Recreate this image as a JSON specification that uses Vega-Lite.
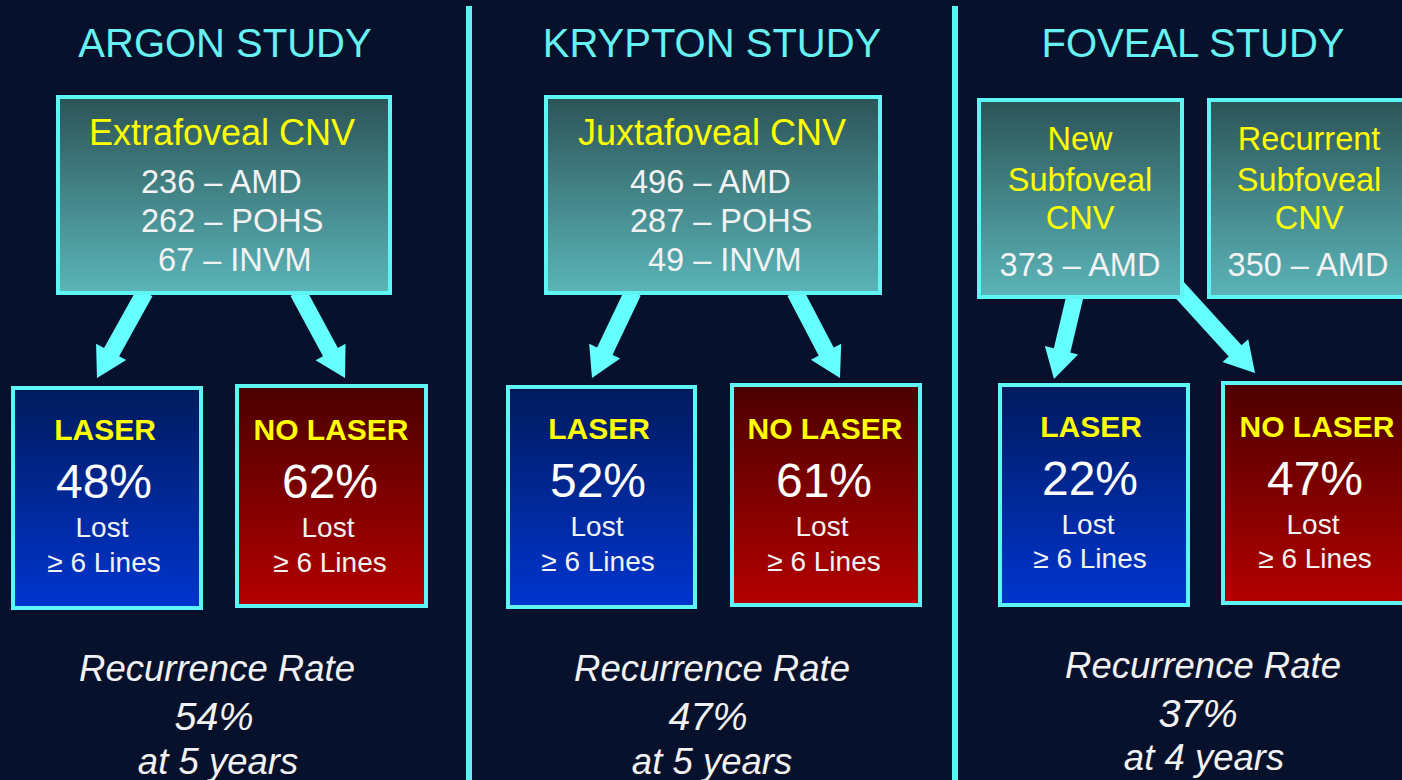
{
  "$schema": "https://vega.github.io/schema/vega-lite/v6.json",
  "autosize": "none",
  "width": 1402,
  "height": 780,
  "padding": 0,
  "background": "#08112c",
  "config": {"view": {"stroke": null}, "font": "Liberation Sans"},
  "datasets": {
    "dividers": [
      {"x": 469, "y": 6, "y2": 780},
      {"x": 955, "y": 6, "y2": 780}
    ],
    "arrows": [
      {"study": "Argon", "to": "Laser", "x": 145, "y": 292, "x2": 110, "y2": 355, "tx": 97, "ty": 378, "angle": 28.4},
      {"study": "Argon", "to": "No laser", "x": 298, "y": 292, "x2": 332, "y2": 355, "tx": 345, "ty": 378, "angle": 331},
      {"study": "Krypton", "to": "Laser", "x": 633, "y": 292, "x2": 603, "y2": 355, "tx": 592, "ty": 378, "angle": 25.2},
      {"study": "Krypton", "to": "No laser", "x": 795, "y": 292, "x2": 828, "y2": 355, "tx": 840, "ty": 378, "angle": 332},
      {"study": "Foveal", "to": "Laser", "x": 1075, "y": 296, "x2": 1061, "y2": 355, "tx": 1054, "ty": 379, "angle": 14.5},
      {"study": "Foveal", "to": "No laser", "x": 1176, "y": 286, "x2": 1238, "y2": 354, "tx": 1255, "ty": 373, "angle": 318.7}
    ],
    "boxes": [
      {"kind": "top", "label": "Extrafoveal CNV", "x": 58, "x2": 390, "y": 97, "y2": 293},
      {"kind": "top", "label": "Juxtafoveal CNV", "x": 546, "x2": 880, "y": 97, "y2": 293},
      {"kind": "top", "label": "New Subfoveal CNV", "x": 979, "x2": 1182, "y": 100, "y2": 297},
      {"kind": "top", "label": "Recurrent Subfoveal CNV", "x": 1209, "x2": 1410, "y": 100, "y2": 297},
      {"kind": "laser", "label": "Argon laser", "x": 13, "x2": 201, "y": 388, "y2": 608},
      {"kind": "laser", "label": "Krypton laser", "x": 508, "x2": 695, "y": 387, "y2": 607},
      {"kind": "laser", "label": "Foveal laser", "x": 1000, "x2": 1188, "y": 385, "y2": 605},
      {"kind": "nolaser", "label": "Argon no laser", "x": 237, "x2": 426, "y": 386, "y2": 606},
      {"kind": "nolaser", "label": "Krypton no laser", "x": 732, "x2": 920, "y": 385, "y2": 605},
      {"kind": "nolaser", "label": "Foveal no laser", "x": 1223, "x2": 1410, "y": 383, "y2": 603}
    ],
    "labels": [
      {"role": "title", "text": "ARGON STUDY", "x": 225, "y": 44},
      {"role": "title", "text": "KRYPTON STUDY", "x": 712, "y": 44},
      {"role": "title", "text": "FOVEAL STUDY", "x": 1193, "y": 44},
      {"role": "head", "text": "Extrafoveal CNV", "x": 222, "y": 133},
      {"role": "head", "text": "Juxtafoveal CNV", "x": 712, "y": 133},
      {"role": "count", "text": "236 – AMD", "x": 141, "y": 182},
      {"role": "count", "text": "262 – POHS", "x": 141, "y": 221},
      {"role": "count", "text": "67 – INVM", "x": 158, "y": 260},
      {"role": "count", "text": "496 – AMD", "x": 630, "y": 182},
      {"role": "count", "text": "287 – POHS", "x": 630, "y": 221},
      {"role": "count", "text": "49 – INVM", "x": 648, "y": 260},
      {"role": "head2", "text": "New", "x": 1080, "y": 139},
      {"role": "head2", "text": "Subfoveal", "x": 1080, "y": 180},
      {"role": "head2", "text": "CNV", "x": 1080, "y": 218},
      {"role": "head2", "text": "Recurrent", "x": 1309, "y": 139},
      {"role": "head2", "text": "Subfoveal", "x": 1309, "y": 180},
      {"role": "head2", "text": "CNV", "x": 1309, "y": 218},
      {"role": "count2", "text": "373 – AMD", "x": 1080, "y": 265},
      {"role": "count2", "text": "350 – AMD", "x": 1308, "y": 265},
      {"role": "boxhead", "text": "LASER", "x": 105, "y": 430},
      {"role": "boxhead", "text": "NO LASER", "x": 331, "y": 430},
      {"role": "boxhead", "text": "LASER", "x": 599, "y": 429},
      {"role": "boxhead", "text": "NO LASER", "x": 825, "y": 429},
      {"role": "boxhead", "text": "LASER", "x": 1091, "y": 427},
      {"role": "boxhead", "text": "NO LASER", "x": 1317, "y": 427},
      {"role": "pct", "text": "48%", "x": 104, "y": 483},
      {"role": "pct", "text": "62%", "x": 330, "y": 483},
      {"role": "pct", "text": "52%", "x": 598, "y": 482},
      {"role": "pct", "text": "61%", "x": 824, "y": 482},
      {"role": "pct", "text": "22%", "x": 1090, "y": 480},
      {"role": "pct", "text": "47%", "x": 1315, "y": 480},
      {"role": "lost", "text": "Lost", "x": 102, "y": 527},
      {"role": "lost", "text": "Lost", "x": 328, "y": 527},
      {"role": "lost", "text": "Lost", "x": 597, "y": 526},
      {"role": "lost", "text": "Lost", "x": 822, "y": 526},
      {"role": "lost", "text": "Lost", "x": 1088, "y": 524},
      {"role": "lost", "text": "Lost", "x": 1313, "y": 524},
      {"role": "lost", "text": "≥ 6 Lines", "x": 104, "y": 562},
      {"role": "lost", "text": "≥ 6 Lines", "x": 330, "y": 562},
      {"role": "lost", "text": "≥ 6 Lines", "x": 598, "y": 561},
      {"role": "lost", "text": "≥ 6 Lines", "x": 824, "y": 561},
      {"role": "lost", "text": "≥ 6 Lines", "x": 1090, "y": 558},
      {"role": "lost", "text": "≥ 6 Lines", "x": 1315, "y": 558},
      {"role": "rec", "text": "Recurrence Rate", "x": 217, "y": 668},
      {"role": "rec", "text": "Recurrence Rate", "x": 712, "y": 668},
      {"role": "rec", "text": "Recurrence Rate", "x": 1203, "y": 665},
      {"role": "recpct", "text": "54%", "x": 214, "y": 716},
      {"role": "recpct", "text": "47%", "x": 708, "y": 716},
      {"role": "recpct", "text": "37%", "x": 1198, "y": 713},
      {"role": "rec", "text": "at 5 years", "x": 218, "y": 761},
      {"role": "rec", "text": "at 5 years", "x": 712, "y": 761},
      {"role": "rec", "text": "at 4 years", "x": 1204, "y": 757}
    ]
  },
  "encoding": {
    "x": {"field": "x", "type": "quantitative", "scale": {"domain": [0, 1402], "nice": false, "zero": false}, "axis": null},
    "y": {"field": "y", "type": "quantitative", "scale": {"domain": [0, 780], "nice": false, "zero": false, "reverse": true}, "axis": null}
  },
  "layer": [
    {
      "data": {"name": "dividers"},
      "mark": {"type": "rule", "color": "#5ef2f2", "strokeWidth": 6},
      "encoding": {"y2": {"field": "y2"}}
    },
    {
      "data": {"name": "arrows"},
      "mark": {"type": "rule", "color": "#66ffff", "strokeWidth": 17, "strokeCap": "butt"},
      "encoding": {"x2": {"field": "x2"}, "y2": {"field": "y2"}}
    },
    {
      "data": {"name": "arrows"},
      "mark": {"type": "point", "shape": "M0,0 L-0.95,-1.65 L0.95,-1.65 Z", "filled": true, "color": "#66ffff", "opacity": 1, "size": 1300},
      "encoding": {
        "x": {"field": "tx", "type": "quantitative"},
        "y": {"field": "ty", "type": "quantitative"},
        "angle": {"field": "angle", "type": "quantitative", "scale": null}
      }
    },
    {
      "data": {"name": "boxes"},
      "transform": [{"filter": "datum.kind === 'top'"}],
      "mark": {"type": "rect", "stroke": "#5ef5f5", "strokeWidth": 4, "fill": {"gradient": "linear", "x1": 0, "y1": 0, "x2": 0, "y2": 1, "stops": [{"offset": 0, "color": "#2c5457"}, {"offset": 1, "color": "#5bb5b9"}]}},
      "encoding": {"x2": {"field": "x2"}, "y2": {"field": "y2"}}
    },
    {
      "data": {"name": "boxes"},
      "transform": [{"filter": "datum.kind === 'laser'"}],
      "mark": {"type": "rect", "stroke": "#5ef5f5", "strokeWidth": 4, "fill": {"gradient": "linear", "x1": 0, "y1": 0, "x2": 0, "y2": 1, "stops": [{"offset": 0, "color": "#001a5c"}, {"offset": 1, "color": "#0035d0"}]}},
      "encoding": {"x2": {"field": "x2"}, "y2": {"field": "y2"}}
    },
    {
      "data": {"name": "boxes"},
      "transform": [{"filter": "datum.kind === 'nolaser'"}],
      "mark": {"type": "rect", "stroke": "#5ef5f5", "strokeWidth": 4, "fill": {"gradient": "linear", "x1": 0, "y1": 0, "x2": 0, "y2": 1, "stops": [{"offset": 0, "color": "#4a0000"}, {"offset": 1, "color": "#b40000"}]}},
      "encoding": {"x2": {"field": "x2"}, "y2": {"field": "y2"}}
    },
    {
      "data": {"name": "labels"},
      "transform": [{"filter": "datum.role === 'title'"}],
      "mark": {"type": "text", "fontSize": 40, "color": "#66f2f2", "align": "center", "baseline": "middle", "dy": 1},
      "encoding": {"text": {"field": "text"}}
    },
    {
      "data": {"name": "labels"},
      "transform": [{"filter": "datum.role === 'head'"}],
      "mark": {"type": "text", "fontSize": 36, "color": "#ffff00", "align": "center", "baseline": "middle", "dy": 1},
      "encoding": {"text": {"field": "text"}}
    },
    {
      "data": {"name": "labels"},
      "transform": [{"filter": "datum.role === 'head2'"}],
      "mark": {"type": "text", "fontSize": 32.5, "color": "#ffff00", "align": "center", "baseline": "middle", "dy": 1},
      "encoding": {"text": {"field": "text"}}
    },
    {
      "data": {"name": "labels"},
      "transform": [{"filter": "datum.role === 'count'"}],
      "mark": {"type": "text", "fontSize": 32.5, "color": "#f2f2f2", "align": "left", "baseline": "middle", "dy": 1},
      "encoding": {"text": {"field": "text"}}
    },
    {
      "data": {"name": "labels"},
      "transform": [{"filter": "datum.role === 'count2'"}],
      "mark": {"type": "text", "fontSize": 32.5, "color": "#f2f2f2", "align": "center", "baseline": "middle", "dy": 1},
      "encoding": {"text": {"field": "text"}}
    },
    {
      "data": {"name": "labels"},
      "transform": [{"filter": "datum.role === 'boxhead'"}],
      "mark": {"type": "text", "fontSize": 30, "fontWeight": "bold", "color": "#ffff00", "align": "center", "baseline": "middle", "dy": 1},
      "encoding": {"text": {"field": "text"}}
    },
    {
      "data": {"name": "labels"},
      "transform": [{"filter": "datum.role === 'pct'"}],
      "mark": {"type": "text", "fontSize": 48, "color": "#ffffff", "align": "center", "baseline": "middle", "dy": 1},
      "encoding": {"text": {"field": "text"}}
    },
    {
      "data": {"name": "labels"},
      "transform": [{"filter": "datum.role === 'lost'"}],
      "mark": {"type": "text", "fontSize": 28, "color": "#f2f2f2", "align": "center", "baseline": "middle", "dy": 2},
      "encoding": {"text": {"field": "text"}}
    },
    {
      "data": {"name": "labels"},
      "transform": [{"filter": "datum.role === 'rec'"}],
      "mark": {"type": "text", "fontSize": 36.5, "fontStyle": "italic", "color": "#f2f2f2", "align": "center", "baseline": "middle", "dy": 2},
      "encoding": {"text": {"field": "text"}}
    },
    {
      "data": {"name": "labels"},
      "transform": [{"filter": "datum.role === 'recpct'"}],
      "mark": {"type": "text", "fontSize": 39.5, "fontStyle": "italic", "color": "#f2f2f2", "align": "center", "baseline": "middle", "dy": 2},
      "encoding": {"text": {"field": "text"}}
    }
  ]
}
